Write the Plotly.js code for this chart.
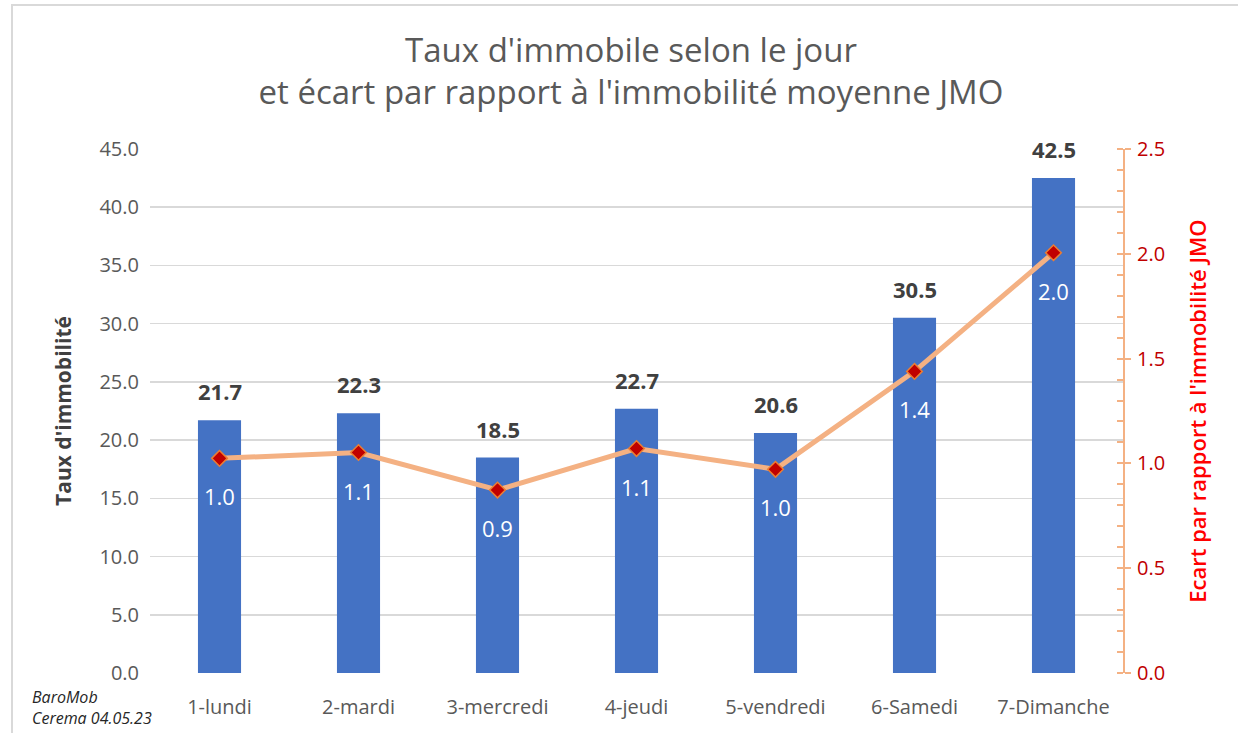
<!DOCTYPE html>
<html>
<head>
<meta charset="utf-8">
<script src="https://cdn.plot.ly/plotly-3.0.1.min.js"></script>
<style>
  html, body { margin: 0; padding: 0; background: #ffffff; overflow: hidden; width: 1238px; height: 733px; }
  #frame { position: absolute; left: 11px; top: 4px; width: 1227px; height: 729px; border-left: 2px solid #D9D9D9; border-top: 2px solid #D9D9D9; box-sizing: border-box; pointer-events: none; }
  #chart { position: absolute; left: 0; top: 0; width: 1238px; height: 733px; }
</style>
</head>
<body>
<div id="chart"></div>
<div id="frame"></div>
<script>
// ---- data ----
const categories = ['1-lundi', '2-mardi', '3-mercredi', '4-jeudi', '5-vendredi', '6-Samedi', '7-Dimanche'];
const tauxImmobilite = [21.7, 22.3, 18.5, 22.7, 20.6, 30.5, 42.5];
const ecartJMO = [1.024, 1.052, 0.873, 1.071, 0.972, 1.439, 2.005];
const leftTickValues = [0, 5, 10, 15, 20, 25, 30, 35, 40, 45];
const rightTickValues = [0, 0.5, 1.0, 1.5, 2.0, 2.5];
const titleText = "Taux d'immobile selon le jour<br>et écart par rapport à l'immobilité moyenne JMO";
const sourceNote = 'BaroMob<br>Cerema 04.05.23';

const FONT = 'Open Sans, Noto Sans, sans-serif';

const barTrace = {
  type: 'bar',
  x: categories,
  y: tauxImmobilite,
  name: "Taux d'immobilité",
  marker: { color: '#4472C4' },
  width: 0.31,
  hoverinfo: 'x+y'
};

const lineTrace = {
  type: 'scatter',
  mode: 'lines+markers',
  x: categories,
  y: ecartJMO,
  yaxis: 'y2',
  name: 'Ecart JMO',
  line: { color: '#F4B183', width: 5 },
  marker: { symbol: 'diamond', size: 12, color: '#C00000', line: { color: '#ED7D31', width: 1.5 } },
  hoverinfo: 'x+y'
};

const annotations = [];
categories.forEach((c, i) => {
  annotations.push({
    x: c, y: tauxImmobilite[i], xref: 'x', yref: 'y',
    text: tauxImmobilite[i].toFixed(1),
    showarrow: false, yanchor: 'bottom', yshift: 12,
    font: { family: FONT, size: 22, color: '#404040', weight: 'bold' }
  });
  annotations.push({
    x: c, y: ecartJMO[i], xref: 'x', yref: 'y2',
    text: ecartJMO[i].toFixed(1),
    showarrow: false, yanchor: 'middle', yshift: -38,
    font: { family: FONT, size: 22, color: '#FFFFFF' }
  });
});
annotations.push({
  xref: 'paper', yref: 'paper', x: -0.123, y: -0.066,
  xanchor: 'left', yanchor: 'middle', align: 'left',
  text: '<i>' + sourceNote + '</i>', showarrow: false,
  font: { family: FONT, size: 16, color: '#262626' }
});

const layout = {
  width: 1238, height: 733,
  margin: { l: 150, r: 115, t: 149, b: 60 },
  paper_bgcolor: 'rgba(0,0,0,0)',
  plot_bgcolor: 'rgba(0,0,0,0)',
  showlegend: false,
  bargap: 0.69,
  title: {
    text: titleText,
    x: 0.5097, xref: 'container', xanchor: 'center',
    y: 0.916, yref: 'container', yanchor: 'top',
    font: { family: FONT, size: 33, color: '#595959' }
  },
  xaxis: {
    type: 'category',
    showgrid: false, showline: false, zeroline: false,
    ticks: '', ticklabelstandoff: 20,
    tickfont: { family: FONT, size: 20, color: '#595959' }
  },
  yaxis: {
    range: [0, 45], tickvals: leftTickValues, tickformat: '.1f',
    showgrid: true, gridcolor: '#D9D9D9', gridwidth: 1.5,
    zeroline: false, showline: false, ticks: '', ticklabelstandoff: 10,
    tickfont: { family: FONT, size: 20, color: '#595959' },
    title: { text: "Taux d'immobilité", standoff: 22, font: { family: FONT, size: 21, color: '#404040', weight: 'bold' } }
  },
  yaxis2: {
    overlaying: 'y', side: 'right', anchor: 'x',
    range: [0, 2.5], tickvals: rightTickValues, tickformat: '.1f',
    showgrid: false, zeroline: false,
    showline: true, linecolor: '#F4B183', linewidth: 2,
    ticks: 'outside', ticklen: 6, tickcolor: '#F4B183', tickwidth: 2,
    minor: { dtick: 0.1, ticks: 'inside', ticklen: 6, tickcolor: '#F4B183', tickwidth: 2 },
    ticklabelstandoff: 2,
    tickfont: { family: FONT, size: 20, color: '#C00000' },
    title: { text: "Ecart par rapport à l'immobilité JMO", standoff: 26, font: { family: FONT, size: 22, color: '#FF0000', weight: 600 } }
  },
  annotations: annotations
};

Plotly.newPlot('chart', [barTrace, lineTrace], layout, { displayModeBar: false, staticPlot: true });
</script>
</body>
</html>
